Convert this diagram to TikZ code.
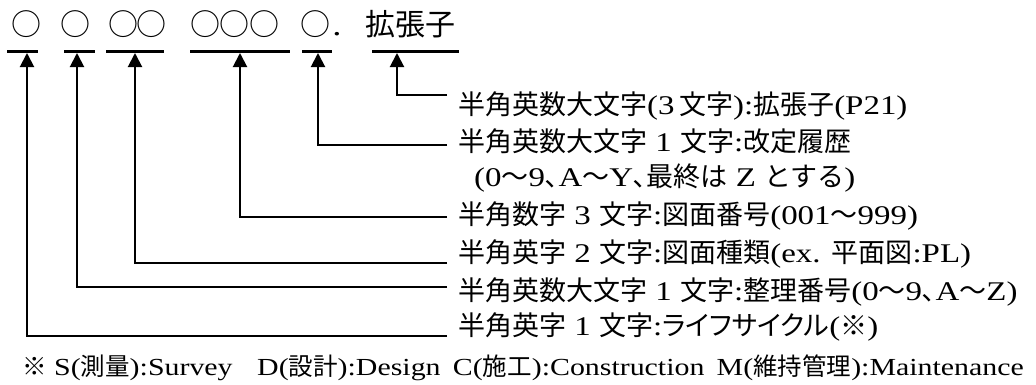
\documentclass[tikz,border=0pt]{standalone}
\usepackage{fontspec}
\setmainfont[FakeStretch=1.22]{Liberation Serif}
\newfontfamily\jpf{Noto Sans CJK JP}
\newfontfamily\jpp[RawFeature=+palt]{Noto Sans CJK JP}
\newcommand\J[1]{{\jpf #1}}
\newcommand\JP[1]{{\jpp #1}}
\usetikzlibrary{arrows.meta}
\begin{document}
\begin{tikzpicture}[x=1pt,y=-1pt,
  bar/.style={fill=black, inner sep=0pt, minimum height=3pt},
  conn/.style={line width=2pt, -{Triangle[length=14pt,width=14pt]}},
  lbl/.style={anchor=west, inner sep=0pt, font=\fontsize{27}{32}\selectfont},
  circ/.style={inner sep=0pt, font=\fontsize{30}{36}\selectfont},
  topt/.style={inner sep=0pt, font=\fontsize{30}{36}\selectfont}]
\useasboundingbox (0,0) rectangle (1036,384);
% top row
\node[circ] (c1) at (27,24) {\J{○}};
\node[circ] (c2) at (75,24) {\J{○}};
\node[circ] (c3a) at (123.5,24) {\J{○}};
\node[circ] (c3b) at (151.5,24) {\J{○}};
\node[circ] (c4a) at (205,24) {\J{○}};
\node[circ] (c4b) at (234,24) {\J{○}};
\node[circ] (c4c) at (264,24) {\J{○}};
\node[circ] (c5) at (315,24) {\J{○}};
\node[topt, anchor=base] (dot) at (337,35) {.};
\node[topt] (ext) at (410,24) {\J{拡張子}};
% bars
\node[bar, minimum width=31pt] (b1) at (22.5,51.5) {};
\node[bar, minimum width=31pt] (b2) at (79.5,51.5) {};
\node[bar, minimum width=58pt] (b3) at (135,51.5) {};
\node[bar, minimum width=100pt] (b4) at (240,51.5) {};
\node[bar, minimum width=30pt] (b5) at (317,51.5) {};
\node[bar, minimum width=87pt] (b6) at (415.5,51.5) {};
% arrow tips
\coordinate (t1) at (27,53);
\coordinate (t2) at (77,53);
\coordinate (t3) at (135,53);
\coordinate (t4) at (240,53);
\coordinate (t5) at (318,53);
\coordinate (t6) at (397,53);
% connector starts
\coordinate (h6) at (447,95);
\coordinate (h5) at (447,145);
\coordinate (h4) at (447,217);
\coordinate (h3) at (447,263);
\coordinate (h2) at (447,287);
\coordinate (h1) at (447,336);
\draw[conn] (h6) -| (t6);
\draw[conn] (h5) -| (t5);
\draw[conn] (h4) -| (t4);
\draw[conn] (h3) -| (t3);
\draw[conn] (h2) -| (t2);
\draw[conn] (h1) -| (t1);
% labels
\node[lbl] (l6) at (458,106) {\J{半角英数大文字}(3\,\J{文字}):\J{拡張子}(P21)};
\node[lbl] (l5) at (458,141) {\J{半角英数大文字} 1 \J{文字}:\J{改定履歴}};
\node[lbl] (l5b) at (474,178) {(0\J{～}9\J{､}A\J{～}Y\J{､最終は} Z \J{とする})};
\node[lbl] (l4) at (458,216) {\J{半角数字} 3 \J{文字}:\J{図面番号}(001\J{～}999)};
\node[lbl] (l3) at (458,254) {\J{半角英字} 2 \J{文字}:\J{図面種類}(ex. \J{平面図}:PL)};
\node[lbl] (l2) at (458,292) {\J{半角英数大文字} 1 \J{文字}:\J{整理番号}(0\J{～}9\J{､}A\J{～}Z)};
\node[lbl] (l1) at (458,327) {\J{半角英字} 1 \J{文字}:\JP{ライフサイクル}(\J{※})};
\node[lbl, font=\fontsize{24.5}{29}\selectfont] (note) at (22,368) {\J{※} S(\J{測量}):Survey\quad D(\J{設計}):Design\enspace C(\J{施工}):Construction\enspace M(\J{維持管理}):Maintenance};
\end{tikzpicture}
\end{document}
